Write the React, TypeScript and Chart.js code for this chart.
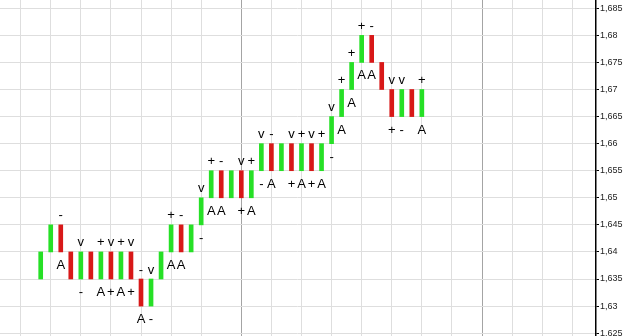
import React, { useEffect, useRef } from 'react';
import { Chart, registerables } from 'chart.js';

Chart.register(...registerables);

const barIndex = [0, 1, 2, 3, 4, 5, 6, 7, 8, 9, 10, 11, 12, 13, 14, 15, 16, 17, 18, 19, 20, 21, 22, 23, 24, 25, 26, 27, 28, 29, 30, 31, 32, 33, 34, 35, 36, 37, 38];

const opens = [
  1.635, 1.640, 1.645, 1.640, 1.635, 1.640, 1.635, 1.640, 1.635, 1.640,
  1.635, 1.630, 1.635, 1.640, 1.645, 1.640, 1.645, 1.650, 1.655, 1.650,
  1.655, 1.650, 1.655, 1.660, 1.655, 1.660, 1.655, 1.660, 1.655, 1.660,
  1.665, 1.670, 1.675, 1.680, 1.675, 1.670, 1.665, 1.670, 1.665,
];

const closes = [
  1.640, 1.645, 1.640, 1.635, 1.640, 1.635, 1.640, 1.635, 1.640, 1.635,
  1.630, 1.635, 1.640, 1.645, 1.640, 1.645, 1.650, 1.655, 1.650, 1.655,
  1.650, 1.655, 1.660, 1.655, 1.660, 1.655, 1.660, 1.655, 1.660, 1.665,
  1.670, 1.675, 1.680, 1.675, 1.670, 1.665, 1.670, 1.665, 1.670,
];

const labelsAbove = [
  '', '', '-', '', 'v', '', '+', 'v', '+', 'v',
  '-', 'v', '', '+', '-', '', 'v', '+', '-', '',
  'v', '+', 'v', '-', '', 'v', '+', 'v', '+', 'v',
  '+', '+', '+', '-', '', 'v', 'v', '', '+',
];

const labelsBelow = [
  '', '', 'A', '', '-', '', 'A', '+', 'A', '+',
  'A', '-', '', 'A', 'A', '', '-', 'A', 'A', '',
  '+', 'A', '-', 'A', '', '+', 'A', '+', 'A', '-',
  'A', 'A', 'A', 'A', '', '+', '-', '', 'A',
];

const gridHours = [-2, 1, 4, 7, 10, 13, 16, 20, 23, 26, 29, 32, 35, 38, 41, 44, 47, 50, 53];
const daySeparators = [20, 44];

const yTickValues = [1.625, 1.63, 1.635, 1.64, 1.645, 1.65, 1.655, 1.66, 1.665, 1.67, 1.675, 1.68, 1.685];
const yTickLabels = ['1,625', '1,63', '1,635', '1,64', '1,645', '1,65', '1,655', '1,66', '1,665', '1,67', '1,675', '1,68', '1,685'];

const GREEN = '#26e026';
const RED = '#d81818';

const textLabelsPlugin = {
  id: 'textLabels',
  afterDatasetsDraw(chart: any) {
    const ctx = chart.ctx;
    const xs = chart.scales.x;
    const ys = chart.scales.y;
    ctx.save();
    ctx.font = '13px "Liberation Sans", Arial, sans-serif';
    ctx.fillStyle = '#000';
    ctx.textAlign = 'center';
    ctx.textBaseline = 'alphabetic';
    barIndex.forEach((k, i) => {
      const x = xs.getPixelForValue(k);
      const hi = Math.max(opens[i], closes[i]);
      const lo = Math.min(opens[i], closes[i]);
      const top = ys.getPixelForValue(hi);
      const bottom = ys.getPixelForValue(lo);
      if (labelsAbove[i]) ctx.fillText(labelsAbove[i], x, top - 5.5);
      if (labelsBelow[i]) ctx.fillText(labelsBelow[i], x, bottom + 17);
    });
    ctx.restore();
  },
};

export default function App() {
  const canvasRef = useRef<HTMLCanvasElement | null>(null);

  useEffect(() => {
    if (!canvasRef.current) return;
    const chart = new Chart(canvasRef.current, {
      type: 'bar',
      data: {
        datasets: [
          {
            data: barIndex.map((k, i) => ({ x: k, y: [opens[i], closes[i]] })) as any,
            backgroundColor: barIndex.map((_, i) => (closes[i] > opens[i] ? GREEN : RED)),
            borderWidth: 0,
            borderSkipped: false,
            barThickness: 4,
          },
        ],
      },
      options: {
        animation: false,
        responsive: false,
        layout: { padding: 0 },
        plugins: {
          legend: { display: false },
          tooltip: { enabled: false },
        },
        scales: {
          x: {
            type: 'linear',
            position: 'bottom',
            min: -4.058,
            max: 55.364,
            offset: false,
            afterBuildTicks: (s: any) => {
              s.ticks = gridHours.map((v) => ({ value: v }));
            },
            afterFit: (s: any) => {
              s.height = 0;
              s.paddingLeft = 0;
              s.paddingRight = 0;
            },
            ticks: { display: false },
            grid: {
              offset: false,
              drawTicks: false,
              color: (c: any) => (c.tick && daySeparators.includes(c.tick.value) ? '#a4a4a4' : '#dedede'),
              lineWidth: 1,
            },
            border: { display: false },
          },
          y: {
            type: 'linear',
            position: 'right',
            min: 1.624472,
            max: 1.686533,
            afterBuildTicks: (s: any) => {
              s.ticks = yTickValues.map((v) => ({ value: v }));
            },
            afterFit: (s: any) => {
              s.width = 29;
              s.paddingTop = 0;
              s.paddingBottom = 0;
            },
            ticks: {
              callback: (v: any) => {
                const idx = yTickValues.findIndex((t) => Math.abs(t - Number(v)) < 1e-9);
                return idx >= 0 ? yTickLabels[idx] : '';
              },
              font: { size: 9, family: '"Liberation Sans", Arial, sans-serif' },
              color: '#222',
              padding: 1,
            },
            grid: {
              color: '#dedede',
              tickColor: '#000',
              tickLength: 3,
              lineWidth: 1,
            },
            border: { display: true, color: '#000', width: 1.5 },
          },
        },
      },
      plugins: [textLabelsPlugin],
    });
    return () => chart.destroy();
  }, []);

  return (
    <div style={{ position: 'fixed', left: 0, top: 0, width: 625, height: 336, background: '#fff' }}>
      <canvas ref={canvasRef} width={625} height={336} style={{ width: 625, height: 336, display: 'block' }} />
    </div>
  );
}
